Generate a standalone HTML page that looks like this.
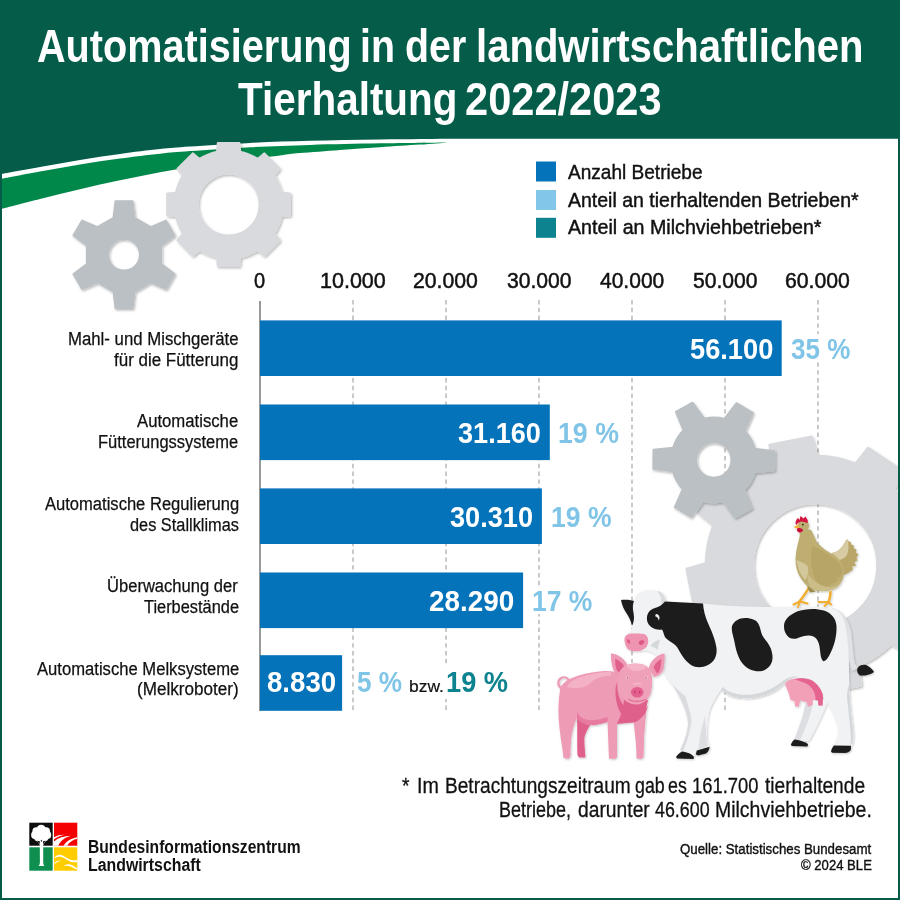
<!DOCTYPE html>
<html><head><meta charset="utf-8"><title>Automatisierung in der landwirtschaftlichen Tierhaltung 2022/2023</title>
<style>
html,body{margin:0;padding:0;background:#fff;}
body{width:900px;height:900px;position:relative;overflow:hidden;font-family:"Liberation Sans",sans-serif;}
svg{position:absolute;left:0;top:0;}
.t{position:absolute;white-space:nowrap;line-height:1;transform-origin:0 0;}
</style></head><body>
<svg width="900" height="900" viewBox="0 0 900 900">
<defs><filter id="sh" x="-10%" y="-10%" width="125%" height="125%"><feDropShadow dx="1.2" dy="1.5" stdDeviation="1.2" flood-color="#000" flood-opacity="0.28"/></filter><filter id="sh2" x="-10%" y="-10%" width="125%" height="125%"><feDropShadow dx="0.8" dy="1" stdDeviation="1" flood-color="#000" flood-opacity="0.22"/></filter></defs>
<rect width="900" height="900" fill="#fff"/>
<line x1="353" y1="300" x2="353" y2="711.5" stroke="#9a9a9a" stroke-width="1.05" stroke-dasharray="4.4 3.4"/><line x1="446" y1="300" x2="446" y2="711.5" stroke="#9a9a9a" stroke-width="1.05" stroke-dasharray="4.4 3.4"/><line x1="539" y1="300" x2="539" y2="711.5" stroke="#9a9a9a" stroke-width="1.05" stroke-dasharray="4.4 3.4"/><line x1="632" y1="300" x2="632" y2="711.5" stroke="#9a9a9a" stroke-width="1.05" stroke-dasharray="4.4 3.4"/><line x1="725" y1="300" x2="725" y2="711.5" stroke="#9a9a9a" stroke-width="1.05" stroke-dasharray="4.4 3.4"/><line x1="818" y1="300" x2="818" y2="711.5" stroke="#9a9a9a" stroke-width="1.05" stroke-dasharray="4.4 3.4"/>
<path d="M0,0H900V138.8H520L520,138.8C510.0,138.8 483.3,138.7 460.0,138.8C436.7,138.9 405.0,139.2 380.0,139.5C355.0,139.8 331.7,140.2 310.0,140.8C288.3,141.4 270.0,141.9 250.0,142.9C230.0,143.9 205.0,145.6 190.0,146.6C175.0,147.6 171.7,147.8 160.0,149.0C148.3,150.2 133.3,152.1 120.0,153.9C106.7,155.7 93.3,157.7 80.0,159.9C66.7,162.1 53.3,164.6 40.0,167.0C26.7,169.4 6.7,173.0 0.0,174.2Z" fill="#045c49"/><path d="M0,179C6.7,177.8 26.7,173.9 40.0,171.5C53.3,169.1 66.7,166.6 80.0,164.4C93.3,162.2 106.7,160.3 120.0,158.5C133.3,156.7 148.3,154.9 160.0,153.7C171.7,152.5 175.0,152.2 190.0,151.1C205.0,150.0 230.0,148.2 250.0,147.2C270.0,146.2 288.3,145.6 310.0,144.9C331.7,144.2 357.1,143.7 380.0,143.3C402.9,142.9 436.3,142.6 447.6,142.4C443.0,142.8 431.3,143.8 420.0,144.6C408.7,145.4 393.3,146.3 380.0,147.2C366.7,148.1 353.3,148.9 340.0,149.9C326.7,150.9 310.0,152.2 300.0,153.1C290.0,154.0 290.0,154.2 280.0,155.4C270.0,156.6 253.3,158.3 240.0,160.0C226.7,161.7 213.3,163.5 200.0,165.6C186.7,167.7 173.3,169.9 160.0,172.3C146.7,174.8 133.3,177.5 120.0,180.3C106.7,183.1 93.3,186.1 80.0,189.2C66.7,192.3 53.3,195.7 40.0,199.0C26.7,202.3 6.7,207.6 0.0,209.3Z" fill="#00884b"/>
<g filter="url(#sh)"><path d="M817.22,455.72L811.62,436.44L769.44,444.79L771.61,464.75A109.50,109.50 0 0 0 739.22,486.35L721.63,476.68L697.70,512.42L713.35,524.99A109.50,109.50 0 0 0 705.72,563.18L686.44,568.78L694.79,610.96L714.75,608.79A109.50,109.50 0 0 0 736.35,641.18L726.68,658.77L762.42,682.70L774.99,667.05A109.50,109.50 0 0 0 813.18,674.68L818.78,693.96L860.96,685.61L858.79,665.65A109.50,109.50 0 0 0 891.18,644.05L908.77,653.72L932.70,617.98L917.05,605.41A109.50,109.50 0 0 0 924.68,567.22L943.96,561.62L935.61,519.44L915.65,521.61A109.50,109.50 0 0 0 894.05,489.22L903.72,471.63L867.98,447.70L855.41,463.35A109.50,109.50 0 0 0 817.22,455.72ZM753.20,565.20a62.00,62.00 0 1 0 124.00,0a62.00,62.00 0 1 0 -124.00,0Z" fill="#d8dadd" fill-rule="evenodd" stroke="#d8dadd" stroke-width="2" stroke-linejoin="round"/></g>
<g filter="url(#sh)"><path d="M754.47,472.35L774.08,470.24L774.31,451.24L754.76,448.65A42.50,42.50 0 0 0 744.83,430.96L752.81,412.92L736.47,403.21L724.45,418.86A42.50,42.50 0 0 0 704.16,418.61L692.53,402.68L675.96,411.98L683.49,430.21A42.50,42.50 0 0 0 673.13,447.65L653.52,449.76L653.29,468.76L672.84,471.35A42.50,42.50 0 0 0 682.77,489.04L674.79,507.08L691.13,516.79L703.15,501.14A42.50,42.50 0 0 0 723.44,501.39L735.07,517.32L751.64,508.02L744.11,489.79A42.50,42.50 0 0 0 754.47,472.35ZM696.10,460.00a17.70,17.70 0 1 0 35.40,0a17.70,17.70 0 1 0 -35.40,0Z" fill="#bbc0c4" fill-rule="evenodd" stroke="#bbc0c4" stroke-width="2" stroke-linejoin="round"/></g>
<g filter="url(#sh)"><path d="M134.50,217.87L132.50,201.30L115.50,201.30L113.50,217.87L97.35,227.19L82.00,220.64L73.50,235.36L86.85,245.38L86.85,264.02L73.50,274.04L82.00,288.76L97.35,282.21L113.50,291.53L115.50,308.10L132.50,308.10L134.50,291.53L150.65,282.21L166.00,288.76L174.50,274.04L161.15,264.02L161.15,245.38L174.50,235.36L166.00,220.64L150.65,227.19L134.50,217.87ZM108.10,254.70a15.90,15.90 0 1 0 31.80,0a15.90,15.90 0 1 0 -31.80,0Z" fill="#bbc0c4" fill-rule="evenodd" stroke="#bbc0c4" stroke-width="2" stroke-linejoin="round"/></g>
<g filter="url(#sh)"><path d="M281.34,216.00L290.00,215.20L290.00,193.60L281.34,192.80A54.00,54.00 0 0 0 274.09,175.31L279.65,168.62L264.38,153.35L257.69,158.91A54.00,54.00 0 0 0 240.20,151.66L239.40,143.00L217.80,143.00L217.00,151.66A54.00,54.00 0 0 0 199.51,158.91L192.82,153.35L177.55,168.62L183.11,175.31A54.00,54.00 0 0 0 175.86,192.80L167.20,193.60L167.20,215.20L175.86,216.00A54.00,54.00 0 0 0 183.11,233.49L177.55,240.18L192.82,255.45L199.51,249.89A54.00,54.00 0 0 0 217.00,257.14L217.80,265.80L239.40,265.80L240.20,257.14A54.00,54.00 0 0 0 257.69,249.89L264.38,255.45L279.65,240.18L274.09,233.49A54.00,54.00 0 0 0 281.34,216.00ZM197.60,204.40a31.00,31.00 0 1 0 62.00,0a31.00,31.00 0 1 0 -62.00,0Z" fill="#d8dadd" fill-rule="evenodd" stroke="#d8dadd" stroke-width="2" stroke-linejoin="round"/></g>
<!--GRIDHOLES-->
<line x1="260" y1="301" x2="260" y2="711" stroke="#808080" stroke-width="1.6"/>
<rect x="260" y="320.4" width="521.7" height="55.6" fill="#0573ba"/><rect x="260" y="404.5" width="289.8" height="55.6" fill="#0573ba"/><rect x="260" y="488.4" width="281.9" height="55.6" fill="#0573ba"/><rect x="260" y="572.5" width="263.1" height="55.6" fill="#0573ba"/><rect x="260" y="655.2" width="82.1" height="55.6" fill="#0573ba"/>
<rect x="536" y="161.5" width="20" height="20" fill="#0573ba"/><rect x="536" y="190" width="20" height="20" fill="#82c7ea"/><rect x="536" y="217.8" width="20" height="20" fill="#0c838f"/>
<rect x="530" y="587" width="65" height="27" fill="#fff"/><rect x="788" y="334" width="66" height="28" fill="#fff"/><rect x="406" y="664" width="104" height="35" fill="#fff"/>
<g id="cow" filter="url(#sh2)">
<!-- tail behind -->
<path d="M832,608C842,610 848,618 851,632C853,646 853,656 855,664L858,668L852,671C849,662 848,650 846,636C844,622 840,614 832,611Z" fill="#dfe1e4"/>
<path d="M857.5,668C860,664.5 865,664 868,666C871,668 873.5,670.5 874,672C870,675 864,676 860,675.5C857.5,674 856.5,671 857.5,668Z" fill="#1d1d1b"/>
<!-- far hind leg -->
<path d="M826,700L849,672C849,690 850,705 852,720C853,730 854,738 853,742L851,747L833,747C836,742 838,736 838.5,728.5C836,718 832,710 826,700Z" fill="#f1f2f4"/>
<path d="M846,690C848,705 849.5,720 850.5,732C851,738 851,742 850,746L853,742C854,735 853,728 852,720C850.5,708 849.5,698 849,686Z" fill="#d5d8db"/>
<!-- near hind leg -->
<path d="M805,696L828,700C824,712 816,728 809,741L794,740C799,728 804,714 806,704Z" fill="#f1f2f4"/>
<path d="M806,700L813,703C811,714 806,728 800,740L794,740C799,728 804,714 806,700Z" fill="#dcdee1"/>
<!-- front legs -->
<path d="M700,700L721,689C714,700 710,706 709,712C707,722 706,732 707,740L709.5,747L697,751C696,742 696,730 694,718Z" fill="#f1f2f4"/>
<path d="M666,676C672,686 680,691 685,695C689,706 692,716 692,722C690,735 686,745 682,752L694,756C698,746 700,738 702,730C705,718 712,702 721,689L690,680Z" fill="#f1f2f4"/>
<path d="M672,684C678,690 682,693 685,696C688,706 691,716 691,722C689,735 686,744 683,751L680,750C684,742 688,732 688,722C687,712 682,700 672,684Z" fill="#d9dbde"/>
<path d="M700,736C701,730 703,724 705,716C706,726 706,736 707,742L708,746L698,750C699,745 699.5,741 700,736Z" fill="#dcdee1"/>
<!-- body + head -->
<path d="M634,601C635,596 638,592 645,590.5C652,589.5 660,590.5 663,594C665,596.5 665.5,599 666,601.5L703,603.5C730,606.5 760,607.5 790,607C810,606.5 825,606.5 834,609C842,612 845,620 846.5,632C848,645 849,655 849,668C849,680 848,690 846,700L826,702C822,694 818,686 812,680C800,676 792,678 786,682C778,690 768,696 752,698C738,699 728,697 721,689L684,695C676,688 668,680 665,674.7C663,668 661,662 658,657C655,653 650,651 645,650C638,652 630,650 626,646C623,641 625,636 630,632C633,628 633.5,615 634,601Z" fill="#f1f2f4"/>
<!-- belly shadow -->
<path d="M721,689C728,697 738,699 752,698C768,696 778,690 786,682C790,679 794,677 799,676.5C794,675.5 789,676.5 784,680C776,687 766,692.5 752,694.5C740,695.5 730,694 723,687Z" fill="#d5d8db"/>
<!-- head shading -->
<path d="M657,591C661,591.5 664,594 665,598.5L666,601.5L661,604C662,599 660,594 657,591Z" fill="#d9dbde"/>
<path d="M650,646C653,642.5 656,640.5 660,639.5C659,643 658,646.5 657.5,650C655.5,648 653,646.5 650,646Z" fill="#d4d8da"/>
<!-- ear -->
<path d="M621,600C626,599.5 630,600 634,601C632.5,604 632.5,608 633.5,613C634.5,618 634,622 632,625.8C631,621 629,617 627,614C624,610 622,605 621,600Z" fill="#1d1d1b"/>
<!-- spots -->
<path d="M665,601.5L703,603.5C703.5,610 705,616 707.5,622C711,630 715,638 716.5,648C717.5,656 714,662 708,665C702,668 696,668 691,665C685,661 681,654 677,647C673,642 666,640 664.5,636C663.5,633 663,631 662,629.5C659,630 655,629.5 652,627.5C648,625 646.5,621 647,617C647.5,612 651,609 655,608C659,607 662,605 665,601.5Z" fill="#1d1d1b"/>
<path d="M656,614C658,614 659.5,615.5 659.5,618C659.5,619 659,620 658.5,620.5C658.5,618.5 657.5,617 655.5,616.5C655,616 655.5,614.5 656,614Z" fill="#f4f4f4"/>
<path d="M732,626C734,621 739,618 745,618C752,618 757,620 759,625C761,630 761,634 764,638C768,643 772,648 772.5,656C773,663 769,669 762,671C755,672 748,670 743,664C738,658 736,650 734.5,642C733.5,636 731,631 732,626Z" fill="#1d1d1b"/>
<path d="M784,626C784,620 789,615 797,611.5C805,608.5 816,608 824,610.5C831,613 836,618 836.5,626C837,636 834,647 829,656C827,659.5 824.5,662 823,661C821,659 820.5,655 820,650C819.5,644 818,639 813.5,636.5C809,634.5 803,636 798,638C793,640 788.5,638.5 786,634C784.5,631.5 784,629 784,626Z" fill="#1d1d1b"/>
<!-- nose -->
<path d="M624.5,639C624.5,635.5 628,633.5 633,633.5C637,633.5 641,633.5 644,634C647,635 648.5,638 648.3,641.5C648,646 645.5,649 641,650.5C637,652 632,651.5 628.5,649.5C626,647.5 624.5,643 624.5,639Z" fill="#ef94b0"/>
<path d="M627,639.5C628,639 629.5,640 630,641.5C630.2,643 629.5,644 628.5,643.5C627.5,642.5 626.8,641 627,639.5Z" fill="#de5585"/>
<path d="M639,641.5C640.5,640 643,640 644.5,641C644.5,643 642.5,645 640.5,645C639,644.5 638.5,643 639,641.5Z" fill="#de5585"/>
<!-- udder -->
<path d="M785,683C790,678.5 798,677.5 806,679C813,680.5 819,686 822.5,693L823,698L822.5,705.5L818.5,705.5L818,700.5L813,700L812.5,705L808,707L806.5,702L800,700.5L799,706.5L795,706.5L794.5,701L790.5,700L789,694C787.5,690 785.5,686.5 785,683Z" fill="#f2a0b8"/>
<path d="M795,679.5C800,677.5 808,678 813,681C818,684.5 821.5,689.5 822.8,695L823,698L822.5,705.5L818.5,705.5L818,700.5L815.5,700C816,693 812,686.5 806,683.5C802,681.5 798,680.5 795,679.5Z" fill="#e4648f"/>
<!-- hooves -->
<path d="M682,751.5C687,752 692,754 694,757L693.5,759L677,758.5L676,757C677.5,754.5 680,752.5 682,751.5Z" fill="#1d1d1b"/>
<path d="M697,750.5L709.5,746.8C709.5,749.5 708,752 706,753.5L698,755.5L696,754.5C696,753 696.5,751.5 697,750.5Z" fill="#1d1d1b"/>
<path d="M794.5,739.5C799,740 804,741.5 808,744L807.5,746.5L792,746L790.8,745C791.5,742.5 793,740.5 794.5,739.5Z" fill="#1d1d1b"/>
<path d="M834,745.5L851,745.8L850.8,750C849.5,752 847,753 845,753L832,752.8L831,751.5C831.5,749 832.5,747 834,745.5Z" fill="#1d1d1b"/>
</g>
<g id="pig" filter="url(#sh2)">
<!-- tail -->
<path d="M566,689C561,689.5 557.5,686 558.5,681.5C559.5,677.5 564.5,676 567.5,678.5C570,681 568.5,685 565.5,685" fill="none" stroke="#ef9ab5" stroke-width="2.2" stroke-linecap="round"/>
<!-- far hind leg (dark) -->
<path d="M577,716C577.5,730 577,745 577.5,755L579,757.5L585.5,757.5C585,750 584,742 584.5,737C586,732 588,728 591,724Z" fill="#e0608c"/>
<!-- far front leg -->
<path d="M633,716L647.5,700C646,715 644.5,730 644,740C643.8,748 643.8,754 643.5,757L641.5,759L636.5,758.5C636.5,748 635.5,738 634.5,730Z" fill="#ee9bb6"/>
<!-- chest dark -->
<path d="M616,690L648,700L645,712C642,718 638,722 633,722.5L617,724Z" fill="#e0608c"/>
<!-- body -->
<path d="M560,690C561,684 566,680.5 572,678C580,674.5 592,672 604,671C612,670.5 618,672 622,676L624,700C623,710 620,718 617,723.5L617,757L615,759L609,758.5L607.5,722C600,724.5 594,725.5 590,725C585,724.5 580,722 577,718C573,726 571.5,735 571,742C570.5,748 570.5,753 570.5,756L568.5,759L563.5,758C562.5,748 560.5,738 559.5,728C558,716 558,702 560,690Z" fill="#ee9bb6"/>
<!-- back highlight -->
<path d="M567,687C569,683 573,680 579,677.5C589,674 600,672 611,671.5L611,675.5C604,676 598,677.5 594,680C590,683.5 587,686.5 582,687.5C576,688.5 571,688 567,687Z" fill="#f4b2c7"/>
<!-- belly/leg shading -->
<path d="M577,718C580,722 585,724.5 590,725C594,725.5 600,724.5 607.5,722L607.5,717C600,720 592,721 586,719.5C582,718.5 579,716 577,712Z" fill="#e77aa0"/>
<!-- neck shadow dark -->
<path d="M617,682C617,694 620,704 628,709C636,713 644,711 648,706L645,714C640,720 630,721 624,717C618,712 615,700 615.5,688Z" fill="#e0608c"/>
<!-- ears -->
<path d="M611,653.5C614,653 619,655.5 623,659C626,662 628,665 628.5,668L622,676C617.5,675 614,672.5 613,669C611.5,664 610.5,658 611,653.5Z" fill="#ef9ab5"/>
<path d="M615,659C618,659.5 622,662.5 624,666L619,672.5C616.5,671 615.5,668 615,659Z" fill="#e0608c"/>
<path d="M664.5,653.5C661,653.5 656,656.5 652.5,660.5C650.5,663 649,666 648.8,668.5L654,677C658.5,676 662,673.5 663.2,670C664.5,665 665,658.5 664.5,653.5Z" fill="#ef9ab5"/>
<path d="M661.5,659C658.5,660 655,663.5 653.5,667.5L657,673.5C659.5,672 660.8,669 661.5,659Z" fill="#e0608c"/>
<!-- head -->
<path d="M636.5,663.5C643,663.5 649,666.5 651,672C652.5,677 652.5,684 651.5,690C650.5,697 646,703 638,704.5C630,705 622.5,700.5 619.5,693C617.5,687 617.5,678 619.5,672C622,666 629,663.5 636.5,663.5Z" fill="#f0a1ba"/>
<path d="M626,665.5C632,663 642,663 647.5,666.5C644,669.5 640,671 636,671C632,671 628.5,669 626,665.5Z" fill="#f5b5c9"/>
<!-- snout -->
<ellipse cx="637.2" cy="692.3" rx="6.3" ry="5.3" fill="#e35f8d"/>
<path d="M633.5,684.5C635.5,683 639,683 641,684.5" fill="none" stroke="#f5b5c9" stroke-width="1.6" stroke-linecap="round"/>
<ellipse cx="634.8" cy="692" rx="0.9" ry="1.2" fill="#c93a6e"/>
<ellipse cx="639.6" cy="692" rx="0.9" ry="1.2" fill="#c93a6e"/>
<path d="M628.5,699.5C633,702 641,702 645.5,699.5" fill="none" stroke="#e0608c" stroke-width="1" stroke-linecap="round"/>
<!-- eyes -->
<ellipse cx="627" cy="677.5" rx="1.6" ry="1" fill="#f8d5df"/>
<ellipse cx="646.5" cy="677.5" rx="1.6" ry="1" fill="#f8d5df"/>
<circle cx="627.3" cy="677.6" r="0.6" fill="#7a2a48"/>
<circle cx="646.2" cy="677.6" r="0.6" fill="#7a2a48"/>
</g>
<g id="hen" filter="url(#sh2)">
<!-- legs -->
<path d="M809,587.5C806,593 802,598 799.5,601.5" fill="none" stroke="#f0ae30" stroke-width="2.6" stroke-linecap="round"/>
<path d="M793.5,604.5L800,601.5L807.5,603.5M800,601.5L798,607" fill="none" stroke="#f0ae30" stroke-width="2.1" stroke-linecap="round" stroke-linejoin="round"/>
<path d="M830.5,592C830.5,596 829.5,599.5 828.5,602" fill="none" stroke="#f0ae30" stroke-width="2.6" stroke-linecap="round"/>
<path d="M818.5,602L828.5,602L831,604.5M828.5,602L824.5,606" fill="none" stroke="#f0ae30" stroke-width="2.1" stroke-linecap="round" stroke-linejoin="round"/>
<!-- tail -->
<path d="M832,553C838,552 842,548 844.5,543C845.5,541 846.5,539.5 847.5,539.5L849,542L850.5,541.5L851.5,545L853.5,545L854,548.5L856.5,549.5L856,552.5L858.5,554.5L856.5,557.5L857.5,560.5L854.5,562L856,566L852,566.5L853,569.5C850,572 847,574 844,575L838,570Z" fill="#b9a668"/>
<path d="M832,553C838,552 842,548 844.5,543C845.5,541 846.5,539.5 847.5,539.5C849,544 849,550 847,555C845,558 842,559.5 839,560Z" fill="#d6cba3"/>
<!-- thigh dark -->
<path d="M806,579C807,584 811,589 816,591.5L810.5,592.5C808,590 806.5,585 806,579Z" fill="#9c8a4c"/>
<!-- body -->
<path d="M801,531.5C804,529 809,528 811.5,531C814,535 815.5,539 817,542.5C822,548 828,552 834,555C840,559 844,565 844,572C844,580 840,586 833,589.5C826,592 818,592 812,589C806,586 801,580 798,573C795.5,567 795,560 796,553C797,546 799,539 801,531.5Z" fill="#bfae72"/>
<!-- breast light -->
<path d="M796.5,560C800,561.5 805,563 807.5,566C809,570 808,576 805.5,580C801.5,576 798,570 796.5,560Z" fill="#d3c89c"/>
<!-- wing -->
<path d="M812,546C818,548 826,553 832,557C838,560.5 842,566 842.5,572C842,576 840,578 837,577C838,581 836,584 832,583C830,586 826,587 822,585C818,584 815,580 814,576C811,568 810,556 812,546Z" fill="#b7a567"/>
<path d="M808,574C812,580 818,585 826,587C832,588 838,586 841,582C840,586 836,589 831,590C824,592 816,591 811,587.5C808,584 807,579 808,574Z" fill="#cbbd88"/>
<!-- head -->
<circle cx="803.5" cy="525.8" r="5.6" fill="#bfae72"/>
<path d="M799,529C803,531 808,531 811,529.5L813,536L800,537Z" fill="#bfae72"/>
<!-- comb -->
<path d="M795.5,523.5C795.5,521 796.5,519 798,518L799.5,520L800.5,516L803.5,518.5L805.5,516.5L807,519C808,520 808,522 807.5,523L802,521.5C800,521.5 797.5,523 796.5,525Z" fill="#d3123f"/>
<!-- wattle -->
<path d="M797,528.5C798.5,527.5 801.5,528 803,529.5C803,531.5 801.5,532.5 799.5,532.5C797.5,532 796.5,530.5 797,528.5Z" fill="#c8103c"/>
<!-- beak -->
<path d="M793.5,527L798.5,524.5L799.5,527.5L796.5,528.5Z" fill="#f1b23a"/>
<circle cx="802.8" cy="524.6" r="0.9" fill="#2a2418"/>
</g>

<g id="logo">
<rect x="29.3" y="822.7" width="23.4" height="23" fill="#0d0d0d"/>
<rect x="54" y="822.7" width="23.3" height="23" fill="#f40000"/>
<rect x="29.3" y="847.3" width="23.4" height="23.4" fill="#0f8f4f"/>
<rect x="54" y="847.3" width="23.3" height="23.4" fill="#ffcc00"/>
<!-- tree crown -->
<g fill="#fff">
<circle cx="41.2" cy="829.3" r="4.6"/><circle cx="36.4" cy="831.2" r="4"/><circle cx="46" cy="831.2" r="4"/>
<circle cx="35" cy="835" r="3.9"/><circle cx="47.3" cy="835" r="3.9"/><circle cx="38" cy="837.3" r="4"/><circle cx="44.5" cy="837.3" r="4"/><circle cx="41.2" cy="834" r="5"/>
<path d="M36.2,839.5L39.8,845L39.9,862C39.9,864 39.3,865.3 38.6,866L44.4,866C43.7,865.3 43.2,864 43.2,862L43.2,845L46.5,839.5L44,838L41.5,842L39,838Z"/>
</g>
<path d="M37.2,840.6C37.8,842 38.6,843.2 39.6,844.2L39.9,841.2C39,841.3 38,841 37.2,840.6Z" fill="#0d0d0d"/>
<path d="M45.4,840.6C44.8,842 44,843.2 43.2,844.2L43,841.2C43.8,841.3 44.7,841 45.4,840.6Z" fill="#0d0d0d"/>
<!-- red furrows -->
<path d="M54,837.3C57,835.5 60.5,834.7 64.5,834.8C60.5,835.6 57,837.2 54,839.3Z" fill="#fff"/>
<path d="M54,841.5C58,838 64,836 71,835.8C65,837.5 60.5,840.5 58.3,845.7L54,845.7Z" fill="#fff"/>
<path d="M63.5,845.7C66,841.5 71,838.3 77.3,837.2L77.3,838.8C72.5,840 69,842.3 67.3,845.7Z" fill="#fff"/>
<!-- yellow waves -->
<path d="M55,857C57,855 59.5,854.3 62,855.2C65.5,856.6 68,859.3 71.5,860C73.5,860.3 75.5,860.3 77.3,860L77.3,862C75,862.4 72.5,862.3 70,861.4C66.5,860 64.5,857.6 61.5,857C59.2,856.6 57,857.2 55,858.2Z" fill="#fff"/>
<path d="M54.5,862.6C56.5,861 58.8,860.2 61.5,860.6C59,861 56.8,862.2 54.5,864Z" fill="#fff"/>
<path d="M64.5,865.3C66.5,864.2 69,864 71,864.8C73.5,865.8 75.3,867.3 77.3,868.2L77.3,869.7C74.8,869 73,867.3 70.5,866.4C68.5,865.7 66.5,865.6 64.5,866.2Z" fill="#fff"/>
</g>

<path d="M0,0H900V900H0ZM2,2V898H898V2Z" fill="#045c49" fill-rule="evenodd"/>
</svg>
<div class="t" style="left:36.68px;top:24px;font-size:45.5px;font-weight:700;color:#fff;transform:scaleX(0.8707);">Automatisierung</div>
<div class="t" style="left:359.84px;top:24px;font-size:45.5px;font-weight:700;color:#fff;transform:scaleX(0.8646);">in</div>
<div class="t" style="left:405.17px;top:24px;font-size:45.5px;font-weight:700;color:#fff;transform:scaleX(0.8641);">der</div>
<div class="t" style="left:475.50px;top:24px;font-size:45.5px;font-weight:700;color:#fff;transform:scaleX(0.8807);">landwirtschaftlichen</div>
<div class="t" style="left:237.80px;top:77px;font-size:45.5px;font-weight:700;color:#fff;transform:scaleX(0.8890);">Tierhaltung</div>
<div class="t" style="left:465.40px;top:77px;font-size:45.5px;font-weight:700;color:#fff;transform:scaleX(0.9142);">2022/2023</div>
<div class="t" style="left:568.40px;top:163px;font-size:19.7px;font-weight:400;color:#111;transform:scaleX(0.9676);-webkit-text-stroke:0.4px #111;">Anzahl Betriebe</div>
<div class="t" style="left:568.40px;top:191px;font-size:19.7px;font-weight:400;color:#111;transform:scaleX(0.9907);-webkit-text-stroke:0.45px #111;">Anteil an tierhaltenden Betrieben*</div>
<div class="t" style="left:568.40px;top:218px;font-size:19.7px;font-weight:400;color:#111;transform:scaleX(0.9985);-webkit-text-stroke:0.45px #111;">Anteil an Milchviehbetrieben*</div>
<div class="t" style="left:254.28px;top:270px;font-size:22.5px;font-weight:400;color:#111;transform:scaleX(0.8889);-webkit-text-stroke:0.5px #111;">0</div>
<div class="t" style="left:319.66px;top:270px;font-size:22.5px;font-weight:400;color:#111;transform:scaleX(0.9558);-webkit-text-stroke:0.5px #111;">10.000</div>
<div class="t" style="left:413.31px;top:270px;font-size:22.5px;font-weight:400;color:#111;transform:scaleX(0.9434);-webkit-text-stroke:0.5px #111;">20.000</div>
<div class="t" style="left:506.64px;top:270px;font-size:22.5px;font-weight:400;color:#111;transform:scaleX(0.9385);-webkit-text-stroke:0.5px #111;">30.000</div>
<div class="t" style="left:599.97px;top:270px;font-size:22.5px;font-weight:400;color:#111;transform:scaleX(0.9336);-webkit-text-stroke:0.5px #111;">40.000</div>
<div class="t" style="left:692.64px;top:270px;font-size:22.5px;font-weight:400;color:#111;transform:scaleX(0.9385);-webkit-text-stroke:0.5px #111;">50.000</div>
<div class="t" style="left:785.31px;top:270px;font-size:22.5px;font-weight:400;color:#111;transform:scaleX(0.9434);-webkit-text-stroke:0.5px #111;">60.000</div>
<div class="t" style="left:67.99px;top:330px;font-size:18px;font-weight:400;color:#111;transform:scaleX(0.9312);-webkit-text-stroke:0.25px #111;">Mahl- und Mischgeräte</div>
<div class="t" style="left:114.40px;top:351px;font-size:18px;font-weight:400;color:#111;transform:scaleX(0.9415);-webkit-text-stroke:0.25px #111;">für die Fütterung</div>
<div class="t" style="left:137.30px;top:412px;font-size:18px;font-weight:400;color:#111;transform:scaleX(0.9278);-webkit-text-stroke:0.25px #111;">Automatische</div>
<div class="t" style="left:98.31px;top:433px;font-size:18px;font-weight:400;color:#111;transform:scaleX(0.9157);-webkit-text-stroke:0.25px #111;">Fütterungssysteme</div>
<div class="t" style="left:44.80px;top:495px;font-size:18px;font-weight:400;color:#111;transform:scaleX(0.9200);-webkit-text-stroke:0.25px #111;">Automatische Regulierung</div>
<div class="t" style="left:129.69px;top:516px;font-size:18px;font-weight:400;color:#111;transform:scaleX(0.9074);-webkit-text-stroke:0.25px #111;">des Stallklimas</div>
<div class="t" style="left:107.47px;top:577px;font-size:18px;font-weight:400;color:#111;transform:scaleX(0.9200);-webkit-text-stroke:0.25px #111;">Überwachung der</div>
<div class="t" style="left:143.74px;top:598px;font-size:18px;font-weight:400;color:#111;transform:scaleX(0.9102);-webkit-text-stroke:0.25px #111;">Tierbestände</div>
<div class="t" style="left:36.50px;top:660px;font-size:18px;font-weight:400;color:#111;transform:scaleX(0.9233);-webkit-text-stroke:0.25px #111;">Automatische Melksysteme</div>
<div class="t" style="left:137.30px;top:680px;font-size:18px;font-weight:400;color:#111;transform:scaleX(0.9501);-webkit-text-stroke:0.25px #111;">(Melkroboter)</div>
<div class="t" style="left:689.57px;top:334px;font-size:29.4px;font-weight:700;color:#fff;transform:scaleX(0.9267);">56.100</div>
<div class="t" style="left:791.39px;top:334px;font-size:29.4px;font-weight:700;color:#80c5e7;transform:scaleX(0.8861);">35 %</div>
<div class="t" style="left:457.78px;top:418px;font-size:29.4px;font-weight:700;color:#fff;transform:scaleX(0.9222);">31.160</div>
<div class="t" style="left:558.33px;top:418px;font-size:29.4px;font-weight:700;color:#80c5e7;transform:scaleX(0.9095);">19 %</div>
<div class="t" style="left:450.28px;top:502px;font-size:29.4px;font-weight:700;color:#fff;transform:scaleX(0.9233);">30.310</div>
<div class="t" style="left:550.54px;top:502px;font-size:29.4px;font-weight:700;color:#80c5e7;transform:scaleX(0.9034);">19 %</div>
<div class="t" style="left:429.13px;top:586px;font-size:29.4px;font-weight:700;color:#fff;transform:scaleX(0.9486);">28.290</div>
<div class="t" style="left:531.65px;top:586px;font-size:29.4px;font-weight:700;color:#80c5e7;transform:scaleX(0.9003);">17 %</div>
<div class="t" style="left:266.94px;top:667px;font-size:29.4px;font-weight:700;color:#fff;transform:scaleX(0.9404);">8.830</div>
<div class="t" style="left:357.39px;top:667px;font-size:29.4px;font-weight:700;color:#80c5e7;transform:scaleX(0.8918);">5 %</div>
<div class="t" style="left:408.91px;top:678px;font-size:17.2px;font-weight:400;color:#111;transform:scaleX(1.0130);-webkit-text-stroke:0.2px #111;">bzw.</div>
<div class="t" style="left:445.60px;top:667px;font-size:29.4px;font-weight:700;color:#0c838f;transform:scaleX(0.9265);">19 %</div>
<div class="t" style="left:402.20px;top:776px;font-size:21.4px;font-weight:400;color:#111;transform:scaleX(0.8972);-webkit-text-stroke:0.3px #111;">*</div>
<div class="t" style="left:417.41px;top:776px;font-size:21.4px;font-weight:400;color:#111;transform:scaleX(0.9199);-webkit-text-stroke:0.3px #111;">Im</div>
<div class="t" style="left:444.91px;top:776px;font-size:21.4px;font-weight:400;color:#111;transform:scaleX(0.8925);-webkit-text-stroke:0.3px #111;">Betrachtungszeitraum</div>
<div class="t" style="left:634.92px;top:776px;font-size:21.4px;font-weight:400;color:#111;transform:scaleX(0.8323);-webkit-text-stroke:0.3px #111;">gab</div>
<div class="t" style="left:668.34px;top:776px;font-size:21.4px;font-weight:400;color:#111;transform:scaleX(0.8323);-webkit-text-stroke:0.3px #111;">es</div>
<div class="t" style="left:691.85px;top:776px;font-size:21.4px;font-weight:400;color:#111;transform:scaleX(0.8584);-webkit-text-stroke:0.3px #111;">161.700</div>
<div class="t" style="left:765.30px;top:776px;font-size:21.4px;font-weight:400;color:#111;transform:scaleX(0.8948);-webkit-text-stroke:0.3px #111;">tierhaltende</div>
<div class="t" style="left:498.80px;top:800px;font-size:21.4px;font-weight:400;color:#111;transform:scaleX(0.8400);-webkit-text-stroke:0.3px #111;">Betriebe,</div>
<div class="t" style="left:577.70px;top:800px;font-size:21.4px;font-weight:400;color:#111;transform:scaleX(0.9008);-webkit-text-stroke:0.3px #111;">darunter</div>
<div class="t" style="left:655.28px;top:800px;font-size:21.4px;font-weight:400;color:#111;transform:scaleX(0.8343);-webkit-text-stroke:0.3px #111;">46.600</div>
<div class="t" style="left:715.18px;top:800px;font-size:21.4px;font-weight:400;color:#111;transform:scaleX(0.9096);-webkit-text-stroke:0.3px #111;">Milchviehbetriebe.</div>
<div class="t" style="left:679.88px;top:841px;font-size:15.4px;font-weight:400;color:#111;transform:scaleX(0.8628);-webkit-text-stroke:0.4px #111;">Quelle: Statistisches Bundesamt</div>
<div class="t" style="left:800.80px;top:857px;font-size:15.4px;font-weight:400;color:#111;transform:scaleX(0.8520);-webkit-text-stroke:0.4px #111;">© 2024 BLE</div>
<div class="t" style="left:88.32px;top:838px;font-size:18px;font-weight:700;color:#111;transform:scaleX(0.8678);">Bundesinformationszentrum</div>
<div class="t" style="left:88.31px;top:856px;font-size:18px;font-weight:700;color:#111;transform:scaleX(0.8809);">Landwirtschaft</div>
</body></html>
